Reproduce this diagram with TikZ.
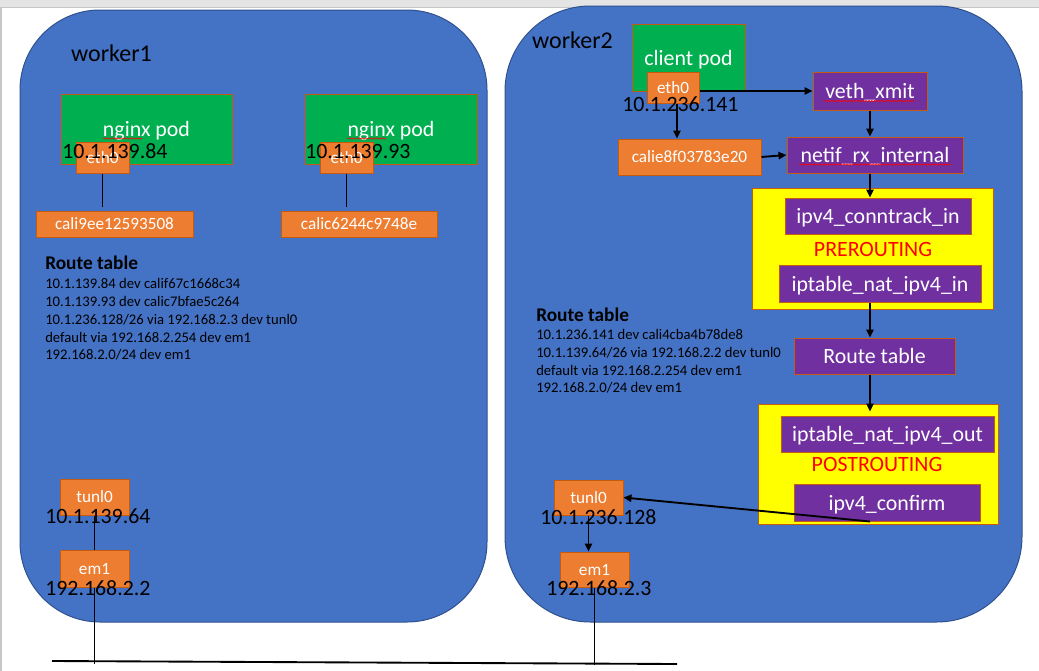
\documentclass[tikz,border=0pt]{standalone}
\usepackage{fontspec}
\setmainfont{Carlito}
\usetikzlibrary{arrows.meta,calc,decorations.pathmorphing}
\definecolor{wblue}{HTML}{4472C4}
\definecolor{wborder}{HTML}{2F528F}
\definecolor{pgreen}{HTML}{00B050}
\definecolor{ifor}{HTML}{ED7D31}
\definecolor{edgeo}{HTML}{C55A11}
\definecolor{hpurple}{HTML}{7030A0}
\definecolor{chainy}{HTML}{FFFF00}
\definecolor{redt}{HTML}{FF0000}
\definecolor{topgray}{HTML}{E4E4E4}
\definecolor{linegray}{HTML}{C6C6C6}
\begin{document}
\begin{tikzpicture}[x=0.75pt,y=-0.75pt,
  worker/.style={fill=wblue, draw=wborder, line width=0.75pt},
  boxbase/.style={draw=edgeo, line width=0.75pt, text=white, inner sep=0pt, text depth=0pt},
  pod/.style={boxbase, fill=pgreen, font=\fontsize{16.4}{19}\selectfont},
  iface/.style={boxbase, fill=ifor, font=\fontsize{12.9}{15}\selectfont},
  hook/.style={boxbase, fill=hpurple, font=\fontsize{16.4}{19}\selectfont},
  chain/.style={fill=chainy, draw=edgeo, line width=0.75pt, inner sep=0pt},
  chainlabel/.style={text=redt, font=\fontsize{16.4}{19}\selectfont, inner sep=0pt},
  iplabel/.style={anchor=base west, font=\fontsize{16.4}{19}\selectfont, inner sep=0pt},
  wlabel/.style={font=\fontsize{18}{21}\selectfont, inner sep=0pt},
  rthead/.style={anchor=base west, font=\bfseries\fontsize{14.5}{17}\selectfont, inner sep=0pt},
  rtline/.style={anchor=base west, font=\fontsize{11}{13}\selectfont, inner sep=0pt},
  conn/.style={line width=1.4pt},
  arr/.style={conn, -{Triangle[length=6pt,width=5.5pt]}},
  spell/.style={draw=redt, line width=0.45pt, decorate, decoration={snake, amplitude=0.5pt, segment length=2.2pt}},
]
\useasboundingbox (0,0) rectangle (1039,671);
% page background
\fill[white] (0,0) rectangle (1039,671);
\fill[topgray] (0,0) rectangle (1039,7);
\draw[linegray, line width=0.75pt] (0,7) -- (1039,7);
\fill[linegray] (0,7) rectangle (1.6,671);

% workers
\draw[worker, rounded corners=60pt] (20,10) rectangle (487,622);
\draw[worker, rounded corners=64pt] (505,6) rectangle (1022,622);
\node[wlabel] (w1lbl) at (111.5,53) {worker1};
\node[wlabel] (w2lbl) at (572.5,40) {worker2};

% ---------- worker1 ----------
\node[pod, minimum width=128.25pt, minimum height=52.5pt] (pod1) at (146.5,129) {nginx pod};
\node[pod, minimum width=129pt, minimum height=52.5pt] (pod2) at (391,129) {nginx pod};
\draw[spell] (103,138.5) -- (142,138.5);
\draw[spell] (347,138.5) -- (386,138.5);
\node[iface, minimum width=39.75pt, minimum height=23.25pt] (eth0a) at (102.5,157.5) {eth0};
\node[iface, minimum width=39.75pt, minimum height=23.25pt] (eth0b) at (346.5,157.5) {eth0};
\node[iplabel] (ip1) at (62,158) {10.1.139.84};
\node[iplabel] (ip2) at (305,158) {10.1.139.93};
\node[iface, minimum width=117.75pt, minimum height=19.5pt] (cali1) at (114.5,224) {cali9ee12593508};
\node[iface, minimum width=117pt, minimum height=19.5pt] (cali2) at (359,224) {calic6244c9748e};

\node[rthead] (rt1h) at (45,269) {Route table};
\node[rtline] (rt1a) at (45,288.7) {10.1.139.84 dev calif67c1668c34};
\node[rtline] (rt1b) at (45,306.5) {10.1.139.93 dev calic7bfae5c264};
\node[rtline] (rt1c) at (45,324.3) {10.1.236.128/26 via 192.168.2.3 dev tunl0};
\node[rtline] (rt1d) at (45,342.1) {default via 192.168.2.254 dev em1};
\node[rtline] (rt1e) at (45,359.9) {192.168.2.0/24 dev em1};

\node[iface, minimum width=51.75pt, minimum height=27pt] (tun1) at (94.5,497) {tunl0};
\node[iplabel] (ip3) at (45,523) {10.1.139.64};
\node[iface, minimum width=51.75pt, minimum height=27.75pt] (em1a) at (94.5,568.5) {em1};
\node[iplabel] (ip4) at (45,595) {192.168.2.2};

% ---------- worker2 ----------
\node[pod, minimum width=84.75pt, minimum height=50.25pt] (cpod) at (688.5,57.5) {client pod};
\node[iface, minimum width=39pt, minimum height=23.25pt] (eth0c) at (673,87.5) {eth0};
\node[iplabel] (ip5) at (622,111) {10.1.236.141};
\node[hook, minimum width=85.5pt, minimum height=28.5pt] (veth) at (870,91) {veth\_xmit};
\draw[spell] (824,101) -- (915,101);
\node[iface, minimum width=107.25pt, minimum height=27pt] (calie) at (689.5,157) {calie8f03783e20};
\node[hook, minimum width=132pt, minimum height=27pt] (netif) at (875,155) {netif\_rx\_internal};
\draw[spell] (799,164.5) -- (951,164.5);

\node[chain, minimum width=180.75pt, minimum height=90.75pt] (pre) at (872.5,248.5) {};
\node[hook, minimum width=139.5pt, minimum height=27pt] (conntrack) at (878,216) {ipv4\_conntrack\_in};
\node[chainlabel] (prelbl) at (873,249) {PREROUTING};
\node[hook, minimum width=151.5pt, minimum height=27.75pt] (natin) at (880,283.5) {iptable\_nat\_ipv4\_in};

\node[hook, minimum width=120.75pt, minimum height=27pt] (rtbox) at (874.5,356) {Route table};

\node[chain, minimum width=180pt, minimum height=90pt] (post) at (878,464) {};
\node[hook, minimum width=159.75pt, minimum height=27pt] (natout) at (887.5,434) {iptable\_nat\_ipv4\_out};
\node[chainlabel] (postlbl) at (877,464) {POSTROUTING};
\node[hook, minimum width=139.5pt, minimum height=27.75pt] (confirm) at (887,502.5) {ipv4\_confirm};

\node[rthead] (rt2h) at (536,321) {Route table};
\node[rtline] (rt2a) at (536,339.7) {10.1.236.141 dev cali4cba4b78de8};
\node[rtline] (rt2b) at (536,357.4) {10.1.139.64/26 via 192.168.2.2 dev tunl0};
\node[rtline] (rt2c) at (536,375.1) {default via 192.168.2.254 dev em1};
\node[rtline] (rt2d) at (536,392.8) {192.168.2.0/24 dev em1};

\node[iface, minimum width=51.75pt, minimum height=26.25pt] (tun2) at (588.5,497.5) {tunl0};
\node[iplabel] (ip6) at (540,524) {10.1.236.128};
\node[iface, minimum width=51.75pt, minimum height=26.25pt] (em1b) at (594.5,569.5) {em1};
\node[iplabel] (ip7) at (546,595) {192.168.2.3};

% ---------- connectors ----------
\coordinate (busL) at (52,661);
\coordinate (busR) at (677,664);
\coordinate (tap1) at (94.5,664);
\coordinate (tap2) at (594.5,665);
\draw[conn] (busL) -- (busR);
\draw[conn] (em1a.south) -- (tap1);
\draw[conn] (em1b.south) -- (tap2);
\draw[conn] (tun1.south) -- (em1a.north);
\draw[conn] (eth0a.south) -- ($(eth0a.south |- cali1.north)+(0,-4)$);
\draw[conn] (eth0b.south) -- ($(eth0b.south |- cali2.north)+(0,-4)$);

\draw[arr] (eth0c.east |- veth.west) -- (veth.west);
\draw[arr] ($(eth0c.south)+(4,0)$) -- ($(eth0c.south |- calie.north)+(4,0)$);
\draw[arr] (calie.east) -- (netif.west);
\draw[arr] (veth.south) -- (veth.south |- netif.north);
\draw[arr] (veth.south |- netif.south) -- (veth.south |- conntrack.north);
\draw[arr] (veth.south |- natin.south) -- (veth.south |- rtbox.north);
\draw[arr] (veth.south |- rtbox.south) -- ($(veth.south |- natout.north)+(0,-4)$);
\draw[arr] (veth.south |- confirm.south) -- (tun2.east);
\draw[arr] (tun2.south) -- (tun2.south |- em1b.north);
\end{tikzpicture}
\end{document}
